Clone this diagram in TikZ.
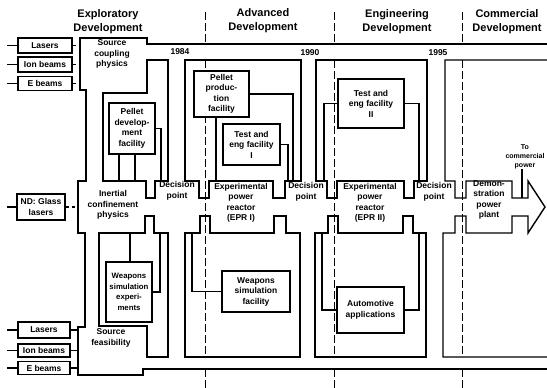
\documentclass[tikz,border=0pt]{standalone}
\usepackage{fontspec}
\setmainfont{Liberation Sans}
\begin{document}
\begin{tikzpicture}[x=1pt,y=-1pt,
  wall/.style={line width=1.4pt, line join=miter},
  conn/.style={line width=1.1pt},
  phase/.style={line width=1pt, dash pattern=on 8pt off 3pt},
  box/.style={draw, line width=1.4pt, fill=white, inner sep=0pt, align=center, font=\bfseries\fontsize{8.5}{10.5}\selectfont},
  lbl/.style={inner sep=0pt, align=center, font=\bfseries\fontsize{8.5}{10.5}\selectfont},
  hdr/.style={inner sep=0pt, align=center, font=\bfseries\fontsize{11}{14}\selectfont},
  inbox/.style={box, minimum width=54pt, minimum height=15pt}]
\useasboundingbox (0,0) rectangle (547,388);
\fill[white] (0,0) rectangle (547,388);

% headers
\node[hdr] (hexp) at (108,22) {Exploratory\\Development};
\node[hdr] (hadv) at (263,21) {Advanced\\Development};
\node[hdr] (heng) at (397,22) {Engineering\\Development};
\node[hdr] (hcom) at (507,22) {Commercial\\Development};

% phase dividers
\foreach \px in {205,334,462}{
  \draw[phase] (\px,12) -- (\px,44);
  \draw[phase] (\px,60) -- (\px,357);
  \draw[phase] (\px,369) -- (\px,388);
}

% outer boundary
\draw[wall] (547,44) -- (147,44) -- (147,38) -- (80,38) -- (80,90) -- (86,90) -- (86,181)
  -- (78,181) -- (78,233) -- (85,233) -- (85,327) -- (78,327) -- (78,375) -- (143,375)
  -- (143,369) -- (547,369);

% exploratory islands
\draw[wall] (103,93) -- (147,93) -- (147,60) -- (168,60) -- (168,181) -- (155,181) -- (155,198)
  -- (146,198) -- (146,181) -- (103,181) -- cycle;
\draw[wall] (99,233) -- (145,233) -- (145,216) -- (154,216) -- (154,233) -- (168,233) -- (168,357)
  -- (147,357) -- (147,326) -- (99,326) -- cycle;
% advanced islands
\draw[wall] (185,60) -- (301,60) -- (301,181) -- (285,181) -- (285,198) -- (273,198) -- (273,181)
  -- (209,181) -- (209,198) -- (199,198) -- (199,181) -- (185,181) -- cycle;
\draw[wall] (185,233) -- (200,233) -- (200,216) -- (210,216) -- (210,233) -- (274,233) -- (274,216)
  -- (286,216) -- (286,233) -- (300,233) -- (300,357) -- (185,357) -- cycle;
% engineering islands
\draw[wall] (316,60) -- (427,60) -- (427,181) -- (414,181) -- (414,198) -- (404,198) -- (404,181)
  -- (337,181) -- (337,198) -- (327,198) -- (327,181) -- (316,181) -- cycle;
\draw[wall] (315,233) -- (328,233) -- (328,216) -- (338,216) -- (338,233) -- (403,233) -- (403,216)
  -- (413,216) -- (413,233) -- (426,233) -- (426,357) -- (315,357) -- cycle;
% commercial region with arrow
\draw[wall] (547,60) -- (445,60) -- (445,181) -- (455,181) -- (455,198) -- (466,198) -- (466,181)
  -- (512,181) -- (512,198) -- (528,198) -- (528,181) -- (545,207) -- (528,233) -- (528,216)
  -- (512,216) -- (512,233) -- (466,233) -- (466,216) -- (455,216) -- (455,233) -- (443,233)
  -- (443,357) -- (547,357);

% left input boxes
\node[inbox] (laA) at (45,45.5) {Lasers};
\node[inbox] (ibA) at (45,64.5) {Ion beams};
\node[inbox, minimum height=14pt] (ebA) at (45,83.5) {E beams};
\node[box, minimum width=48pt, minimum height=26pt] (nd) at (41,207) {ND: Glass\\lasers};
\node[inbox, minimum width=52pt, minimum height=16pt] (laB) at (44,330) {Lasers};
\node[inbox, minimum width=52pt, minimum height=13pt] (ibB) at (44,350.5) {Ion beams};
\node[inbox, minimum width=52pt, minimum height=13pt] (ebB) at (44,368) {E beams};

\coordinate (stub) at (7,0);
\coordinate (scw) at (80,0);
\coordinate (icw) at (78,0);
\foreach \n in {laA,ibA,ebA,nd,laB,ibB,ebB}{
  \draw[conn] (\n.west) -- (\n.west -| stub);
}
\draw[conn, dashed] (laA.east) -- (laA.east -| scw);
\draw[conn, dashed] (ibA.east) -- (ibA.east -| scw);
\draw[conn, dashed] (ebA.east) -- (ebA.east -| scw);
\draw[conn, dashed] (nd.east) -- (nd.east -| icw);
\draw[conn] (laB.east) -- (laB.east -| icw);
\draw[conn] (ibB.east) -- (ibB.east -| icw);
\draw[conn] (ebB.east) -- (ebB.east -| icw);

% channel labels
\node[lbl] (scp) at (112,54) {Source\\coupling\\physics};
\node[lbl] (icp) at (113,205) {Inertial\\confinement\\physics};
\node[lbl] (sfe) at (111,338) {Source\\feasibility};
\node[lbl] (dp1) at (177,191) {Decision\\point};
\node[lbl] (dp2) at (306,192) {Decision\\point};
\node[lbl] (dp3) at (434,192) {Decision\\point};
\node[lbl] (epr1) at (241,203) {Experimental\\power\\reactor\\(EPR I)};
\node[lbl] (epr2) at (370,203) {Experimental\\power\\reactor\\(EPR II)};
\node[lbl] (demo) at (489,200) {Demon-\\stration\\power\\plant};
\node[lbl, font=\bfseries\fontsize{7}{9}\selectfont] (tocp) at (525,157) {To\\commercial\\power};
\node[lbl] (y1) at (180,52) {1984};
\node[lbl] (y2) at (310,53) {1990};
\node[lbl] (y3) at (438,53) {1995};
\coordinate (arr) at (522,198);
\draw[conn] (tocp.south -| arr) -- (arr);

% facility boxes
\node[box, minimum width=46pt, minimum height=51pt] (pdev) at (132,128.5) {Pellet\\develop-\\ment\\facility};
\node[box, minimum width=46pt, minimum height=60pt, font=\bfseries\fontsize{7.8}{10.5}\selectfont] (wexp) at (129,292) {Weapons\\simulation\\experi-\\ments};
\node[box, minimum width=55pt, minimum height=46pt] (pprod) at (221.5,94) {Pellet\\produc-\\tion\\facility};
\node[box, minimum width=57pt, minimum height=41pt] (tef1) at (251.5,144.5) {Test and\\eng facility\\I};
\node[box, minimum width=68pt, minimum height=41pt] (wsf) at (256,291.5) {Weapons\\simulation\\facility};
\node[box, minimum width=66pt, minimum height=49pt] (tef2) at (371,103.5) {Test and\\eng facility\\II};
\node[box, minimum width=67pt, minimum height=46pt] (auto) at (370.5,310) {Automotive\\applications};

% facility connectors
\coordinate (eub1) at (119,181);
\coordinate (eub2) at (135,181);
\coordinate (eub3) at (161,181);
\coordinate (elt1) at (130,233);
\coordinate (elt2) at (160,233);
\coordinate (aub1) at (216,181);
\coordinate (aub2) at (293,181);
\coordinate (aub3) at (288,181);
\coordinate (alt1) at (192,233);
\coordinate (gub1) at (324,181);
\coordinate (gub2) at (419,181);
\coordinate (glt1) at (322,233);
\coordinate (glt2) at (419,233);
\draw[conn] (pdev.south -| eub1) -- (eub1);
\draw[conn] (pdev.south -| eub2) -- (eub2);
\draw[conn] (pdev.east) -| (eub3);
\draw[conn] (wexp.north -| elt1) -- (elt1);
\draw[conn] (wexp.east) -| (elt2);
\draw[conn] (pprod.south -| aub1) -- (aub1);
\draw[conn] (pprod.east) -| (aub2);
\draw[conn] (tef1.east) -| (aub3);
\draw[conn] (wsf.west) -| (alt1);
\draw[conn] (tef2.west) -| (gub1);
\draw[conn] (tef2.east) -| (gub2);
\draw[conn] (auto.west) -| (glt1);
\draw[conn] (auto.east) -| (glt2);
\end{tikzpicture}
\end{document}
